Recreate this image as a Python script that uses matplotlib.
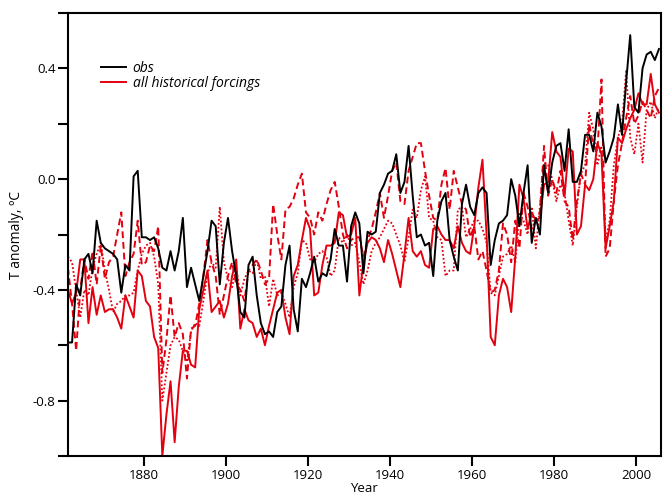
import numpy as np
import matplotlib
matplotlib.use("Agg")
import matplotlib.pyplot as plt
from matplotlib.ticker import MultipleLocator, FormatStrFormatter
from matplotlib.lines import Line2D

plt.rcParams['font.family'] = ['Open Sans', 'DejaVu Sans']
plt.rcParams['axes.unicode_minus'] = False

years = np.arange(1861, 2006)

obs = [
    -0.59, -0.59, -0.38, -0.42, -0.29, -0.27, -0.34, -0.15, -0.23, -0.25,   # 1861-1870
    -0.26, -0.27, -0.29, -0.41, -0.31, -0.33, 0.01, 0.03, -0.21, -0.21,     # 1871-1880
    -0.22, -0.21, -0.25, -0.32, -0.33, -0.26, -0.33, -0.26, -0.14, -0.39,   # 1881-1890
    -0.32, -0.38, -0.44, -0.35, -0.26, -0.15, -0.17, -0.38, -0.23, -0.14,   # 1891-1900
    -0.26, -0.35, -0.48, -0.50, -0.31, -0.28, -0.42, -0.52, -0.56, -0.55,   # 1901-1910
    -0.57, -0.48, -0.46, -0.31, -0.24, -0.47, -0.55, -0.36, -0.39, -0.34,   # 1911-1920
    -0.28, -0.37, -0.34, -0.35, -0.29, -0.18, -0.24, -0.24, -0.37, -0.17,   # 1921-1930
    -0.12, -0.16, -0.34, -0.19, -0.20, -0.19, -0.05, -0.02, 0.02, 0.03,     # 1931-1940
    0.09, -0.05, -0.01, 0.12, -0.06, -0.21, -0.20, -0.24, -0.23, -0.35,     # 1941-1950
    -0.15, -0.08, -0.05, -0.22, -0.28, -0.33, -0.09, -0.02, -0.10, -0.13,   # 1951-1960
    -0.05, -0.03, -0.05, -0.31, -0.22, -0.16, -0.15, -0.13, 0.00, -0.06,    # 1961-1970
    -0.17, -0.05, 0.05, -0.23, -0.14, -0.20, 0.05, -0.05, 0.06, 0.12,       # 1971-1980
    0.13, 0.03, 0.18, -0.01, -0.01, 0.03, 0.16, 0.16, 0.10, 0.24,           # 1981-1990
    0.19, 0.06, 0.10, 0.15, 0.27, 0.16, 0.35, 0.52, 0.26, 0.24,             # 1991-2000
    0.40, 0.45, 0.46, 0.43, 0.47,                                           # 2001-2005
]

run_solid = [
    -0.40, -0.45, -0.41, -0.29, -0.29, -0.52, -0.39, -0.49, -0.42, -0.48,
    -0.47, -0.47, -0.50, -0.54, -0.42, -0.46, -0.50, -0.33, -0.35, -0.44,
    -0.46, -0.57, -0.61, -1.00, -0.85, -0.73, -0.95, -0.75, -0.62, -0.62,
    -0.67, -0.68, -0.47, -0.40, -0.33, -0.48, -0.46, -0.44, -0.50, -0.45,
    -0.35, -0.29, -0.54, -0.47, -0.51, -0.52, -0.57, -0.54, -0.60, -0.53,
    -0.47, -0.41, -0.40, -0.50, -0.56, -0.35, -0.31, -0.22, -0.14, -0.18,
    -0.42, -0.41, -0.31, -0.24, -0.24, -0.23, -0.12, -0.13, -0.21, -0.20,
    -0.14, -0.42, -0.30, -0.23, -0.21, -0.22, -0.25, -0.30, -0.22, -0.27,
    -0.33, -0.39, -0.27, -0.14, -0.26, -0.28, -0.26, -0.31, -0.32, -0.18,
    -0.17, -0.20, -0.22, -0.22, -0.25, -0.17, -0.23, -0.26, -0.27, -0.17,
    -0.03, 0.07, -0.20, -0.57, -0.60, -0.42, -0.36, -0.39, -0.48, -0.28,
    -0.02, -0.07, -0.18, -0.12, -0.15, -0.14, -0.02, -0.01, 0.17, 0.10,
    0.08, -0.06, 0.11, 0.10, -0.20, -0.17, -0.02, -0.04, 0.00, 0.13,
    0.09, -0.25, -0.17, -0.08, 0.15, 0.13, 0.18, 0.22, 0.25, 0.31,
    0.27, 0.27, 0.38, 0.27, 0.24,
]

run_dashed = [
    -0.32, -0.45, -0.62, -0.40, -0.29, -0.36, -0.26, -0.38, -0.24, -0.36,
    -0.30, -0.28, -0.20, -0.12, -0.35, -0.30, -0.27, -0.15, -0.31, -0.30,
    -0.24, -0.26, -0.17, -0.70, -0.58, -0.42, -0.57, -0.52, -0.56, -0.72,
    -0.54, -0.53, -0.45, -0.35, -0.22, -0.30, -0.35, -0.49, -0.42, -0.35,
    -0.30, -0.38, -0.40, -0.44, -0.33, -0.31, -0.29, -0.33, -0.38, -0.36,
    -0.09, -0.20, -0.29, -0.11, -0.10, -0.07, -0.02, 0.02, -0.12, -0.14,
    -0.20, -0.12, -0.15, -0.09, -0.04, -0.01, -0.10, -0.20, -0.25, -0.22,
    -0.21, -0.21, -0.28, -0.22, -0.18, -0.12, -0.05, -0.14, -0.06, 0.03,
    0.06, -0.08, -0.09, 0.03, 0.08, 0.13, 0.13, 0.03, -0.06, -0.14,
    -0.15, -0.02, 0.04, -0.11, 0.03, -0.03, -0.09, -0.11, -0.21, -0.17,
    -0.29, -0.26, -0.33, -0.41, -0.40, -0.33, -0.16, -0.20, -0.30, -0.15,
    -0.25, -0.05, -0.10, -0.18, -0.15, -0.12, 0.12, -0.06, 0.00, -0.05,
    0.03, -0.08, -0.10, -0.22, -0.08, 0.02, -0.02, 0.20, 0.12, 0.10,
    0.36, -0.28, -0.25, -0.08, 0.05, 0.13, 0.22, 0.30, 0.20, 0.23,
    0.28, 0.25, 0.22, 0.30, 0.33,
]

run_dotted = [
    -0.28, -0.30, -0.40, -0.50, -0.40, -0.42, -0.32, -0.27, -0.23, -0.33,
    -0.40, -0.48, -0.45, -0.44, -0.42, -0.42, -0.41, -0.33, -0.27, -0.24,
    -0.23, -0.28, -0.38, -0.80, -0.70, -0.60, -0.57, -0.58, -0.62, -0.66,
    -0.55, -0.52, -0.53, -0.44, -0.34, -0.30, -0.32, -0.10, -0.30, -0.36,
    -0.39, -0.32, -0.42, -0.36, -0.33, -0.34, -0.29, -0.36, -0.35, -0.46,
    -0.36, -0.42, -0.41, -0.45, -0.50, -0.39, -0.34, -0.22, -0.23, -0.29,
    -0.30, -0.27, -0.26, -0.28, -0.35, -0.33, -0.21, -0.23, -0.20, -0.24,
    -0.23, -0.30, -0.38, -0.33, -0.26, -0.23, -0.21, -0.18, -0.15, -0.16,
    -0.20, -0.24, -0.30, -0.21, -0.11, -0.14, -0.04, 0.01, -0.14, -0.15,
    -0.21, -0.22, -0.35, -0.33, -0.33, -0.11, -0.10, -0.21, -0.18, -0.15,
    -0.15, -0.18, -0.23, -0.41, -0.42, -0.35, -0.28, -0.27, -0.24, -0.30,
    -0.12, -0.15, -0.20, -0.10, -0.25, -0.10, 0.06, 0.05, 0.00, -0.08,
    -0.02, -0.05, -0.15, -0.24, -0.10, 0.02, 0.05, 0.24, 0.18, 0.05,
    0.12, -0.22, -0.15, 0.05, 0.15, 0.20, 0.39, 0.15, 0.09, 0.20,
    0.06, 0.25, 0.28, 0.22, 0.26,
]

x_ticks = [1880, 1900, 1920, 1940, 1960, 1980, 2000]
y_major = [-0.8, -0.4, 0.0, 0.4]
legend_labels = ['obs', 'all historical forcings']

RED = '#e3000f'

fig = plt.figure(figsize=(6.66, 4.98), dpi=100)
ax = fig.add_axes([0.102, 0.0843, 0.8905, 0.8896])

xpos = years + 0.5
ax.plot(xpos, run_dotted, color=RED, lw=1.3, ls=(0, (1, 1.2)))
ax.plot(xpos, run_dashed, color=RED, lw=1.4, ls=(0, (3.5, 2)))
ax.plot(xpos, run_solid, color=RED, lw=1.4)
ax.plot(xpos, obs, color='black', lw=1.4)

ax.set_xlim(1861.5, 2006)
ax.set_ylim(-1.0, 0.6)
ax.set_xticks(x_ticks)
ax.set_yticks(y_major)
ax.yaxis.set_minor_locator(MultipleLocator(0.2))
ax.yaxis.set_major_formatter(FormatStrFormatter('%.1f'))

for s in ax.spines.values():
    s.set_linewidth(1.5)
ax.tick_params(axis='both', which='both', direction='out', length=7, width=1.5,
               labelsize=9.5, pad=2)

ax.set_xlabel('Year', fontsize=9.5, labelpad=0)
ax.set_ylabel('T anomaly, ºC', fontsize=10, labelpad=6)

handles = [Line2D([], [], color='black', lw=1.4),
           Line2D([], [], color=RED, lw=1.4)]
ax.legend(handles, legend_labels, loc='upper left',
          bbox_to_anchor=(0.047, 0.905), frameon=False, handlelength=1.8,
          handletextpad=0.45, labelspacing=0.05, borderaxespad=0,
          prop={'style': 'italic', 'size': 10})

fig.savefig('out.png', dpi=100)
